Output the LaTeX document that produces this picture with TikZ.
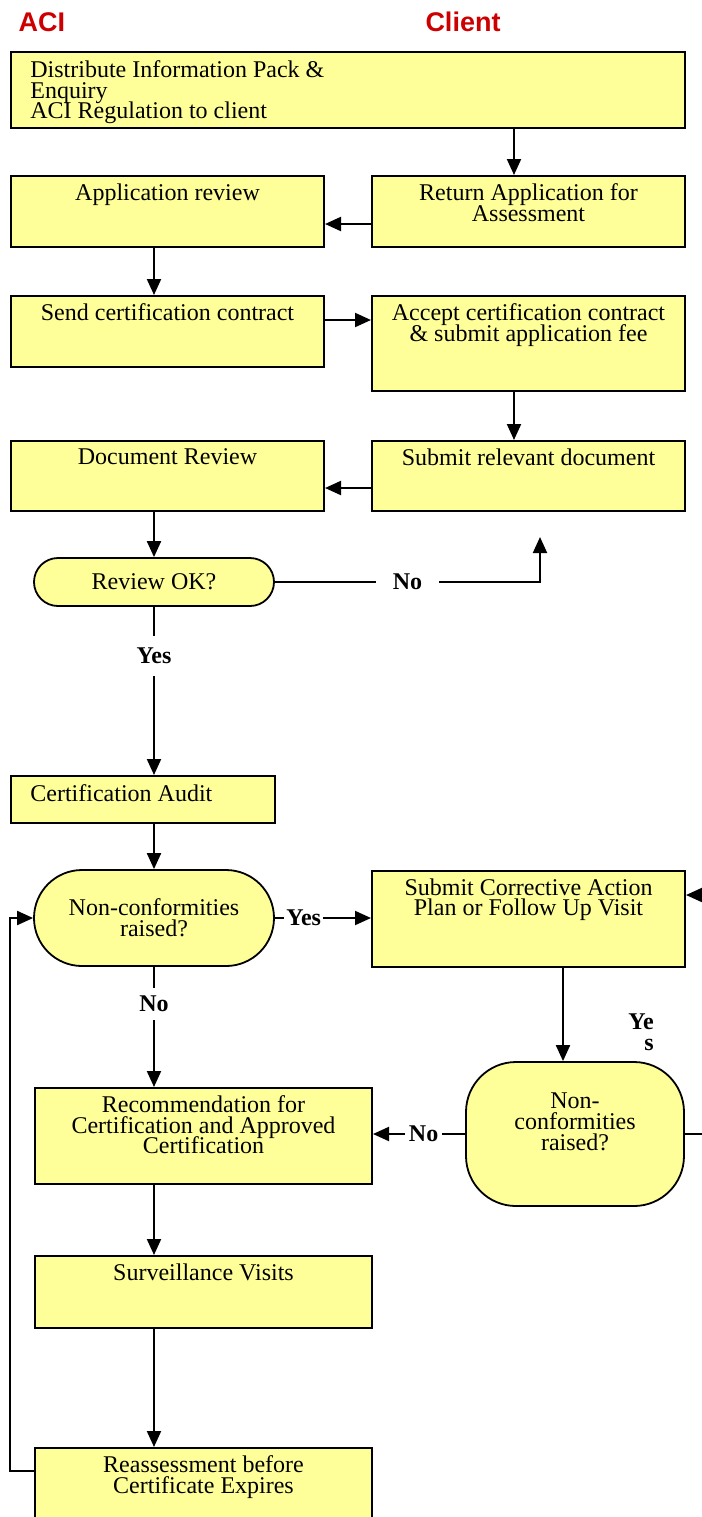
\documentclass[tikz,border=0pt]{standalone}
\usepackage{fontspec}
\setmainfont{Liberation Serif}
\newfontfamily\headfont{Liberation Sans}
\usetikzlibrary{arrows.meta}
\definecolor{boxfill}{HTML}{FFFF99}
\definecolor{headred}{HTML}{CC0000}
\newcommand\boxfont{\fontsize{12pt}{10.4pt}\selectfont\lineskiplimit=-100pt\relax}
\tikzset{
  procbox/.style={draw, fill=boxfill, line width=1pt, anchor=north west, inner sep=0pt},
  decision/.style={draw, fill=boxfill, line width=0.9pt, rounded corners=#1, inner sep=0pt, align=center},
  toptext/.style={anchor=north, inner sep=4pt, align=center},
  lefttext/.style={anchor=north west, inner xsep=2pt, inner ysep=4.5pt, xshift=8pt, align=left},
  flow/.style={line width=1pt, -{Triangle[length=8pt,width=7pt]}},
  plain/.style={line width=1pt},
  answer/.style={font=\boxfont\bfseries, inner sep=1pt},
  gaplabel/.style={answer, fill=white},
  header/.style={font=\headfont\bfseries\fontsize{13.5pt}{15pt}\selectfont, text=headred}
}
\begin{document}
\begin{tikzpicture}[x=0.5pt, y=-0.5pt, font=\boxfont]
  \useasboundingbox (0,0) rectangle (702,1517);
  \clip (0,0) rectangle (702,1517);
  % helper columns and rows for the connectors
  \coordinate (lcol) at (154,0);
  \coordinate (rcol) at (514,0);
  \coordinate (cacol) at (563,0);
  \coordinate (row1) at (0,224);
  \coordinate (row2) at (0,320);
  \coordinate (row3) at (0,488);
  \coordinate (noup) at (540,537);
  \coordinate (rloop) at (712,895);
  \coordinate (lloop) at (10,1471);

  % headings
  \node[header] (aci) at (42,22) {ACI};
  \node[header] (client) at (463,22) {Client};

  % boxes
  \node[procbox, minimum width=337pt, minimum height=38pt,
    label={[lefttext]north west:{Distribute Information Pack \&\\Enquiry\\ACI Regulation to client}}]
    (distrib) at (10,51) {};
  \node[procbox, minimum width=156.5pt, minimum height=35.5pt,
    label={[toptext]north:{Return Application for\\Assessment}}] (retapp) at (371,175) {};
  \node[procbox, minimum width=156.5pt, minimum height=35.5pt,
    label={[toptext]north:Application review}] (appreview) at (10,175) {};
  \node[procbox, minimum width=156.5pt, minimum height=35.5pt,
    label={[toptext]north:Send certification contract}] (sendcon) at (10,295) {};
  \node[procbox, minimum width=156.5pt, minimum height=47.5pt,
    label={[toptext]north:{Accept certification contract\\\& submit application fee}}] (acceptcon) at (371,295) {};
  \node[procbox, minimum width=156.5pt, minimum height=35pt,
    label={[toptext]north:Submit relevant document}] (submitdoc) at (371,440) {};
  \node[procbox, minimum width=156.5pt, minimum height=35pt,
    label={[toptext]north:Document Review}] (docreview) at (10,440) {};
  \node[decision=12pt, minimum width=120pt, minimum height=24pt] (reviewok) at (154,582) {Review OK?};
  \node[procbox, minimum width=132pt, minimum height=23.5pt,
    label={[lefttext]north west:Certification Audit}] (certaudit) at (10,775) {};
  \node[decision=24pt, minimum width=120pt, minimum height=48pt] (noncon1) at (154,918) {Non-conformities\\raised?};
  \node[procbox, minimum width=156.5pt, minimum height=48pt,
    label={[toptext]north:{Submit Corrective Action\\Plan or Follow Up Visit}}] (submitca) at (371,870) {};
  \node[decision=25pt, minimum width=109pt, minimum height=72pt] (noncon2) at (575,1134) {Non-\\conformities\\raised?\\[2pt]};
  \node[procbox, minimum width=168.5pt, minimum height=48pt,
    label={[toptext]north:{Recommendation for\\Certification and Approved\\Certification}}] (recommend) at (34,1087) {};
  \node[procbox, minimum width=168.5pt, minimum height=36pt,
    label={[toptext]north:Surveillance Visits}] (surveil) at (34,1255) {};
  \node[procbox, minimum width=168.5pt, minimum height=48pt,
    label={[toptext]north:{Reassessment before\\Certificate Expires}}] (reassess) at (34,1447) {};
  \node[answer, align=right] (yesca) at (641,1032) {Ye\\s};

  % connectors
  \draw[flow] (distrib.south -| rcol) -- (retapp.north -| rcol);
  \draw[flow] (retapp.west |- row1) -- (appreview.east |- row1);
  \draw[flow] (appreview.south -| lcol) -- (sendcon.north -| lcol);
  \draw[flow] (sendcon.east |- row2) -- (acceptcon.west |- row2);
  \draw[flow] (acceptcon.south -| rcol) -- (submitdoc.north -| rcol);
  \draw[flow] (submitdoc.west |- row3) -- (docreview.east |- row3);
  \draw[flow] (docreview.south -| lcol) -- (reviewok.north);
  \draw[flow] (reviewok.east) -- node[gaplabel, inner xsep=8.5pt, pos=0.5]{No} (noup |- reviewok.east) -- (noup);
  \draw[flow] (reviewok.south) -- node[gaplabel, inner ysep=6pt, pos=0.29]{Yes} (certaudit.north -| lcol);
  \draw[flow] (certaudit.south -| lcol) -- (noncon1.north);
  \draw[flow] (noncon1.east) -- node[gaplabel, pos=0.3]{Yes} (submitca.west |- noncon1.east);
  \draw[flow] (noncon1.south) -- node[gaplabel, inner ysep=4pt, pos=0.31]{No} (recommend.north -| lcol);
  \draw[flow] (submitca.south -| cacol) -- (noncon2.north -| cacol);
  \draw[flow] (noncon2.west) -- node[gaplabel, inner xsep=2pt, pos=0.45]{No} (recommend.east |- noncon2.west);
  \draw[flow] (noncon2.east) -- (rloop |- noncon2.east) -- (rloop) -- (submitca.east |- rloop);
  \draw[flow] (recommend.south -| lcol) -- (surveil.north -| lcol);
  \draw[flow] (surveil.south -| lcol) -- (reassess.north -| lcol);
  \draw[flow] (reassess.west |- lloop) -- (lloop) -- (lloop |- noncon1.west) -- (noncon1.west);
\end{tikzpicture}
\end{document}
